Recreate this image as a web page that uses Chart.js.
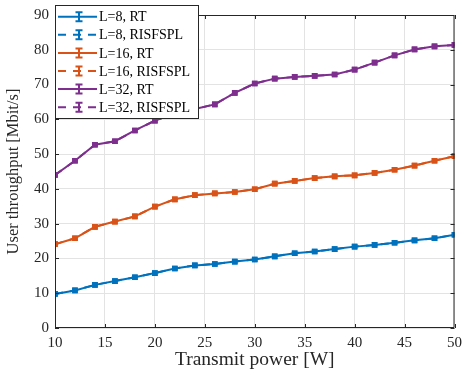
<!DOCTYPE html>
<html>
<head>
<meta charset="utf-8">
<script src="https://cdn.jsdelivr.net/npm/chart.js@4"></script>
<style>
html,body{margin:0;padding:0;background:#fff;}
#wrap{width:468px;height:372px;position:relative;}
</style>
</head>
<body>
<div id="wrap"><canvas id="c" width="468" height="372"></canvas></div>
<script>
const power = [10,12,14,16,18,20,22,24,26,28,30,32,34,36,38,40,42,44,46,48,50];
const L8_RT  = [9.8,10.8,12.4,13.5,14.6,15.8,17.1,18.0,18.4,19.1,19.7,20.6,21.5,22.0,22.7,23.4,23.9,24.5,25.2,25.8,26.8];
const L8_RIS = [9.8,10.8,12.4,13.5,14.6,15.8,17.1,18.0,18.4,19.1,19.7,20.6,21.5,22.0,22.7,23.4,23.9,24.5,25.2,25.8,26.8];
const L16_RT  = [24.1,25.8,29.1,30.6,32.1,34.9,37.0,38.2,38.7,39.1,39.9,41.5,42.3,43.1,43.6,43.9,44.6,45.5,46.7,48.1,49.4];
const L16_RIS = [24.1,25.8,29.1,30.6,32.1,34.9,37.0,38.2,38.7,39.1,39.9,41.5,42.3,43.1,43.6,43.9,44.6,45.5,46.7,48.1,49.4];
const L32_RT  = [44.0,48.1,52.7,53.7,56.8,59.6,61.8,63.0,64.3,67.6,70.3,71.7,72.2,72.5,72.9,74.3,76.3,78.4,80.1,81.0,81.4];
const L32_RIS = [44.0,48.1,52.7,53.7,56.8,59.6,61.8,63.0,64.3,67.6,70.3,71.7,72.2,72.5,72.9,74.3,76.3,78.4,80.1,81.0,81.4];
const xTicks = [10,15,20,25,30,35,40,45,50];
const yTicks = [0,10,20,30,40,50,60,70,80,90];
const seriesLabels = ['L=8, RT','L=8, RISFSPL','L=16, RT','L=16, RISFSPL','L=32, RT','L=32, RISFSPL'];
const xTitle = 'Transmit power [W]';
const yTitle = 'User throughput [Mbit/s]';

const BLUE='#0072BD', ORANGE='#D95319', PURPLE='#7E2F8E';
const colors=[BLUE,BLUE,ORANGE,ORANGE,PURPLE,PURPLE];
const dashed=[false,true,false,true,false,true];
const seriesData=[L8_RT,L8_RIS,L16_RT,L16_RIS,L32_RT,L32_RIS];
const FONT='"Liberation Serif","Times New Roman",serif';

const datasets = seriesData.map((d,i)=>({
  label: seriesLabels[i],
  data: d.map((v,j)=>({x:power[j],y:v})),
  borderColor: colors[i],
  backgroundColor: colors[i],
  borderWidth: 2,
  borderDash: dashed[i]?[8,7]:[],
  pointStyle:'rect',
  pointRadius: 4,
  pointBorderWidth: 0,
  tension: 0,
  order: dashed[i]?1:0
}));

const framePlugin = {
  id:'frame',
  afterDatasetsDraw(chart){
    const {ctx, chartArea:a, scales:{x,y}} = chart;
    ctx.save();
    ctx.strokeStyle='#262626';
    ctx.lineWidth=1;
    ctx.beginPath();
    ctx.rect(a.left+0.5,a.top+0.5,a.right-a.left-1,a.bottom-a.top-1);
    ctx.stroke();
    const tl=4;
    ctx.beginPath();
    xTicks.forEach(t=>{const px=Math.round(x.getPixelForValue(t))+0.5;
      ctx.moveTo(px,a.bottom);ctx.lineTo(px,a.bottom-tl);
      ctx.moveTo(px,a.top);ctx.lineTo(px,a.top+tl);});
    yTicks.forEach(t=>{const py=Math.round(y.getPixelForValue(t))+0.5;
      ctx.moveTo(a.left,py);ctx.lineTo(a.left+tl,py);
      ctx.moveTo(a.right,py);ctx.lineTo(a.right-tl,py);});
    ctx.stroke();
    ctx.restore();
  },
  afterDraw(chart){
    const {ctx, chartArea:a} = chart;
    ctx.save();
    const bx=a.left, by=5, bw=143, bh=113;
    ctx.fillStyle='#fff';
    ctx.fillRect(bx,by,bw,bh);
    ctx.strokeStyle='#262626';ctx.lineWidth=1;
    ctx.strokeRect(bx+0.5,by+0.5,bw,bh);
    ctx.font='14px '+FONT;
    ctx.textBaseline='middle';
    ctx.textAlign='left';
    seriesLabels.forEach((lab,i)=>{
      const cy=16.7+i*18.1;
      const x0=bx+3, x1=bx+42, xm=bx+24;
      ctx.strokeStyle=colors[i];ctx.lineWidth=2;
      ctx.setLineDash(dashed[i]?[8,7]:[]);
      ctx.beginPath();ctx.moveTo(x0,cy);ctx.lineTo(x1,cy);ctx.stroke();
      ctx.setLineDash([]);
      ctx.beginPath();
      ctx.moveTo(xm,cy-4.5);ctx.lineTo(xm,cy+4.5);
      ctx.moveTo(xm-3.5,cy-4.5);ctx.lineTo(xm+3.5,cy-4.5);
      ctx.moveTo(xm-3.5,cy+4.5);ctx.lineTo(xm+3.5,cy+4.5);
      ctx.stroke();
      ctx.fillStyle='#000';
      ctx.fillText(lab,bx+44,cy+1);
    });
    ctx.restore();
  }
};

new Chart(document.getElementById('c'),{
  type:'line',
  data:{datasets},
  options:{
    responsive:false,
    animation:false,
    layout:{padding:{top:9,right:9,left:4,bottom:0}},
    plugins:{legend:{display:false},tooltip:{enabled:false}},
    scales:{
      x:{type:'linear',min:10,max:50,
        afterBuildTicks:s=>{s.ticks=xTicks.map(v=>({value:v}));},
        afterFit:s=>{s.height=44;},
        grid:{color:'#e3e3e3',lineWidth:1,drawTicks:false},
        border:{display:false},
        ticks:{padding:6,color:'#262626',font:{family:FONT,size:15},maxRotation:0},
        title:{display:true,text:xTitle,color:'#262626',font:{family:FONT,size:19.5},padding:{top:0,bottom:0}}
      },
      y:{type:'linear',min:0,max:90,
        afterBuildTicks:s=>{s.ticks=yTicks.map(v=>({value:v}));},
        afterFit:s=>{s.width=51;},
        grid:{color:'#e3e3e3',lineWidth:1,drawTicks:false},
        border:{display:false},
        ticks:{padding:6,color:'#262626',font:{family:FONT,size:15}},
        title:{display:true,text:yTitle,color:'#262626',font:{family:FONT,size:16.5},padding:{top:0,bottom:0}}
      }
    }
  },
  plugins:[framePlugin]
});
</script>
</body>
</html>
